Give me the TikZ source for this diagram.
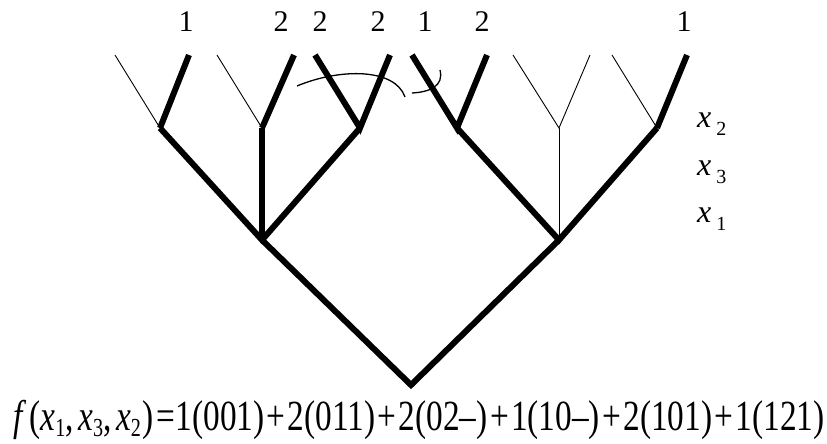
\documentclass[tikz,border=0pt]{standalone}
\usepackage{fontspec}
\setmainfont{Liberation Serif}
\newcommand{\lowsub}[1]{\raisebox{-8pt}{\fontsize{20}{20}\selectfont #1}}
\newcommand{\fsub}[1]{\raisebox{-6pt}{\fontsize{26}{26}\selectfont #1}}
\newcommand{\pl}{\kern3pt+\kern3pt}
\begin{document}
\begin{tikzpicture}[x=1pt,y=-1pt,
  thickedge/.style={line width=6pt,line join=miter},
  thinedge/.style={line width=0.9pt},
  leaflabel/.style={font=\fontsize{30}{30}\selectfont,inner sep=0pt,anchor=base},
  varlabel/.style={font=\fontsize{32}{32}\selectfont,inner sep=0pt,anchor=base west}]
\useasboundingbox (0,0) rectangle (827,444);
% nodes of the tree
\coordinate (r) at (411,385);
\coordinate (a) at (262,240);
\coordinate (b) at (559,240);
\coordinate (a1) at (160,128);
\coordinate (a2) at (262,128);
\coordinate (a3) at (360,128);
\coordinate (b1) at (457,128);
\coordinate (b2) at (559,128);
\coordinate (b3) at (657,128);
\coordinate (l1) at (115,55);
\coordinate (l2) at (189,55);
\coordinate (l3) at (217,55);
\coordinate (l4) at (294,55);
\coordinate (l5) at (315,55);
\coordinate (l6) at (390,55);
\coordinate (l7) at (412,55);
\coordinate (l8) at (487,55);
\coordinate (l9) at (513,55);
\coordinate (l10) at (590,55);
\coordinate (l11) at (612,55);
\coordinate (l12) at (687,55);
% edges
\draw[thickedge] (a) -- (r) -- (b);
\draw[thickedge] (a1) -- (a) -- (a3);
\draw[thickedge] (a) -- (a2);
\draw[thickedge] (b1) -- (b) -- (b3);
\draw[thinedge] (b) -- (b2);
\draw[thinedge] (l1) -- (a1);
\draw[thickedge] (a1) -- (l2);
\draw[thinedge] (l3) -- (a2);
\draw[thickedge] (a2) -- (l4);
\draw[thickedge] (l5) -- (a3) -- (l6);
\draw[thickedge] (l7) -- (b1) -- (l8);
\draw[thinedge] (l9) -- (b2) -- (l10);
\draw[thinedge] (l11) -- (b3);
\draw[thickedge] (b3) -- (l12);
% arc
\coordinate (c1) at (297,86);
\coordinate (c2) at (405,97);
\coordinate (c3) at (412,93);
\coordinate (c4) at (440,70);
\draw[line width=1.3pt] (c1) .. controls (340,68) and (395,68) .. (c2);
\draw[line width=1.3pt] (c3) .. controls (430,92) and (444,86) .. (c4);
% leaf labels
\node[leaflabel] (t1) at (186,32) {1};
\node[leaflabel] (t2) at (281,32) {2};
\node[leaflabel] (t3) at (320,32) {2};
\node[leaflabel] (t4) at (378,32) {2};
\node[leaflabel] (t5) at (425,32) {1};
\node[leaflabel] (t6) at (482,32) {2};
\node[leaflabel] (t7) at (684,32) {1};
% variable labels
\node[varlabel] (v2) at (697,127) {\textit{x}\kern5pt\lowsub{2}};
\node[varlabel] (v3) at (697,175) {\textit{x}\kern5pt\lowsub{3}};
\node[varlabel] (v1) at (697,222) {\textit{x}\kern5pt\lowsub{1}};
% formula
\node[inner sep=0pt,anchor=base west] (f) at (13,430)
  {\scalebox{0.775}[1]{\fontsize{43}{43}\selectfont
   \textit{f}\kern4pt(\textit{x}\fsub{1},\kern6pt\textit{x}\fsub{3},\kern6pt\textit{x}\fsub{2}\kern2pt)\kern3pt=\kern1pt1(001)\pl2(011)\pl2(02\textendash)\pl1(10\textendash)\pl2(101)\pl1(121)}};
\end{tikzpicture}
\end{document}
